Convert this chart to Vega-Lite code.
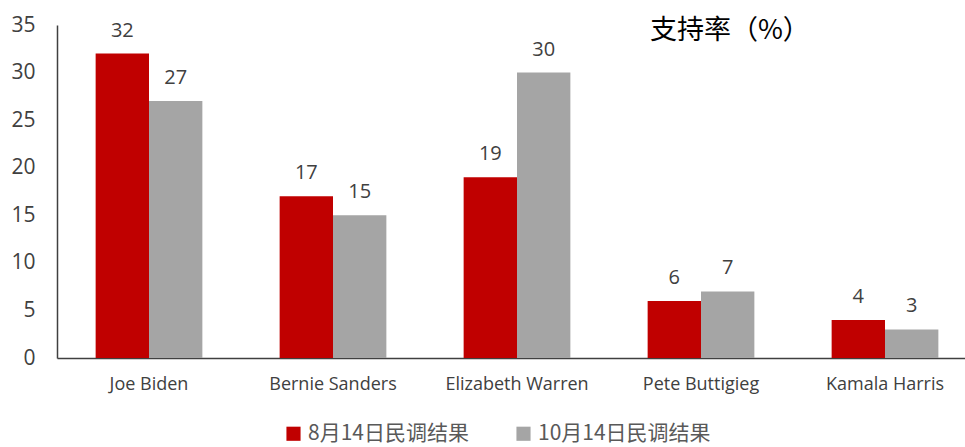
{
  "$schema": "https://vega.github.io/schema/vega-lite/v6.json",
  "autosize": "none",
  "width": 906,
  "height": 333,
  "padding": {"left": 57, "top": 25, "right": 2, "bottom": 89},
  "background": "white",
  "title": {
    "text": "支持率（%）",
    "anchor": "start",
    "frame": "group",
    "orient": "top",
    "offset": 0,
    "dx": 593,
    "dy": 31,
    "font": "Noto Sans CJK SC",
    "fontSize": 27,
    "fontWeight": "normal",
    "color": "#000000"
  },
  "config": {
    "view": {"stroke": null},
    "font": "Open Sans"
  },
  "data": {
    "values": [
      {"candidate": "Joe Biden", "poll": "8月14日民调结果", "value": 32},
      {"candidate": "Joe Biden", "poll": "10月14日民调结果", "value": 27},
      {"candidate": "Bernie Sanders", "poll": "8月14日民调结果", "value": 17},
      {"candidate": "Bernie Sanders", "poll": "10月14日民调结果", "value": 15},
      {"candidate": "Elizabeth Warren", "poll": "8月14日民调结果", "value": 19},
      {"candidate": "Elizabeth Warren", "poll": "10月14日民调结果", "value": 30},
      {"candidate": "Pete Buttigieg", "poll": "8月14日民调结果", "value": 6},
      {"candidate": "Pete Buttigieg", "poll": "10月14日民调结果", "value": 7},
      {"candidate": "Kamala Harris", "poll": "8月14日民调结果", "value": 4},
      {"candidate": "Kamala Harris", "poll": "10月14日民调结果", "value": 3}
    ]
  },
  "encoding": {
    "x": {
      "field": "candidate",
      "type": "nominal",
      "sort": null,
      "scale": {"paddingInner": 0.42, "paddingOuter": 0.21, "range": [0, 920]},
      "axis": {
        "title": null,
        "labelAngle": 0,
        "ticks": false,
        "domainColor": "#404040",
        "domainWidth": 1.5,
        "labelPadding": 17,
        "labelFont": "Open Sans",
        "labelFontSize": 18,
        "labelColor": "#404040"
      }
    },
    "xOffset": {"field": "poll", "type": "nominal", "sort": ["8月14日民调结果", "10月14日民调结果"]},
    "y": {
      "field": "value",
      "type": "quantitative",
      "scale": {"domain": [0, 35], "nice": false},
      "axis": {
        "title": null,
        "values": [0, 5, 10, 15, 20, 25, 30, 35],
        "grid": false,
        "ticks": false,
        "domainColor": "#404040",
        "domainWidth": 1.5,
        "labelPadding": 22,
        "labelFont": "Open Sans",
        "labelFontSize": 21,
        "labelColor": "#404040"
      }
    }
  },
  "layer": [
    {
      "mark": {"type": "bar"},
      "encoding": {
        "color": {
          "field": "poll",
          "type": "nominal",
          "sort": ["8月14日民调结果", "10月14日民调结果"],
          "scale": {"domain": ["8月14日民调结果", "10月14日民调结果"], "range": ["#C00000", "#A5A5A5"]},
          "legend": {
            "title": null,
            "orient": "none",
            "legendX": 226,
            "legendY": 398,
            "direction": "horizontal",
            "symbolType": "square",
            "symbolSize": 200,
            "symbolStrokeWidth": 0,
            "labelFont": "Noto Sans CJK SC",
            "labelFontSize": 21,
            "labelLimit": 400,
            "labelColor": "#595959",
            "labelOffset": 4,
            "columnPadding": 44
          }
        }
      }
    },
    {
      "mark": {"type": "text", "dy": -23, "baseline": "middle", "font": "Open Sans", "fontSize": 20, "color": "#404040"},
      "encoding": {
        "text": {"field": "value", "type": "quantitative"}
      }
    }
  ]
}
